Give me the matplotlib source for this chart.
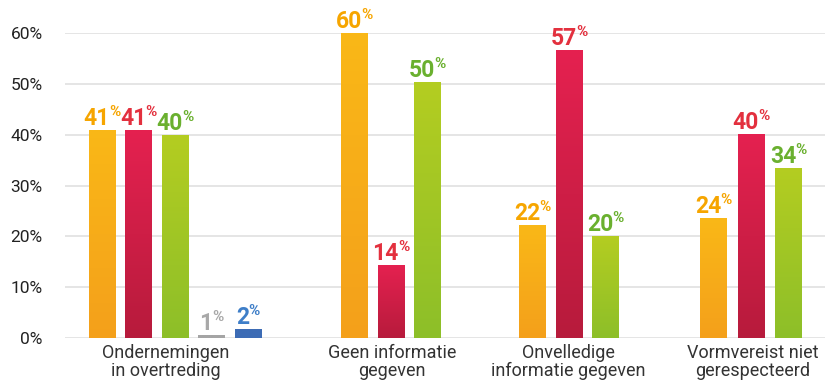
import numpy as np
import matplotlib
matplotlib.use('Agg')
import matplotlib.pyplot as plt
from matplotlib.colors import LinearSegmentedColormap

plt.rcParams['font.family'] = ['Roboto', 'DejaVu Sans']

categories = ['Ondernemingen\nin overtreding', 'Geen informatie\ngegeven',
              'Onvelledige\ninformatie gegeven', 'Vormvereist niet\ngerespecteerd']
# bar heights per group (orange, red, green[, grey, blue])
heights = [
    [41, 41, 40, 0.5, 1.8],
    [60, 14.4, 50.4],
    [22.2, 56.6, 20],
    [23.6, 40.2, 33.5],
]
labels = [
    ['41', '41', '40', '1', '2'],
    ['60', '14', '50'],
    ['22', '57', '20'],
    ['24', '40', '34'],
]
yticks = [0, 10, 20, 30, 40, 50, 60]

# styling
bar_grad = [('#F4A01B', '#FAB817'), ('#B71B3C', '#E52150'), ('#8DBF29', '#B4CD21'),
            ('#A5A5A5', '#A5A5A5'), ('#3D6CB5', '#3D6CB5')]
label_col = ['#F6A500', '#E3303E', '#6AB02F', '#A8A8A8', '#3E7EC8']

# layout (x in pixel-like units)
group_first = [37, 289.5, 467.5, 648.5]
step = [36.5, 36.5, 36.5, 37.5]
tick_pos = [101, 327, 503, 688]
bar_w = 27

W, H = 825, 383
fig = plt.figure(figsize=(W / 100, H / 100), dpi=100)
ax = fig.add_axes([65 / W, (H - 338) / H, 1 - 65 / W, 305 / H])

grad = np.linspace(0, 1, 256).reshape(-1, 1)
for g, hs in enumerate(heights):
    for i, h in enumerate(hs):
        x = group_first[g] + i * step[g]
        bar = ax.bar(x, h, width=bar_w, color='none', edgecolor='none', zorder=2)[0]
        cmap = LinearSegmentedColormap.from_list('c', list(bar_grad[i]))
        im = ax.imshow(grad, cmap=cmap, aspect='auto', origin='lower',
                       extent=[x - bar_w / 2, x + bar_w / 2, 0, h], zorder=2)
        im.set_clip_path(bar)
        t = ax.annotate(labels[g][i], (x, h), xytext=(-4, 3.6), textcoords='offset points',
                        ha='center', va='baseline', fontsize=16.5, fontweight='bold',
                        color=label_col[i], annotation_clip=False)
        ax.annotate('%', xy=(1, 1), xycoords=t, xytext=(-0.3, 1.5), textcoords='offset points',
                    ha='left', va='top', fontsize=11, fontweight='bold', color=label_col[i])

ax.set_xlim(0, 760)
ax.set_ylim(0, 60)
ax.set_yticks(yticks)
ax.set_yticklabels([f'{v}%' for v in yticks], fontsize=12.5, color='#222222')
ax.set_xticks(tick_pos)
ax.set_xticklabels(categories, fontsize=13, color='#333333', linespacing=1.05)
ax.tick_params(axis='both', length=0)
ax.tick_params(axis='y', pad=16)
ax.tick_params(axis='x', pad=4)
ax.grid(axis='y', color='#E0E0E0', linewidth=1.2, zorder=0)
ax.set_axisbelow(True)
for s in ax.spines.values():
    s.set_visible(False)

fig.savefig('out.png', dpi=100)
